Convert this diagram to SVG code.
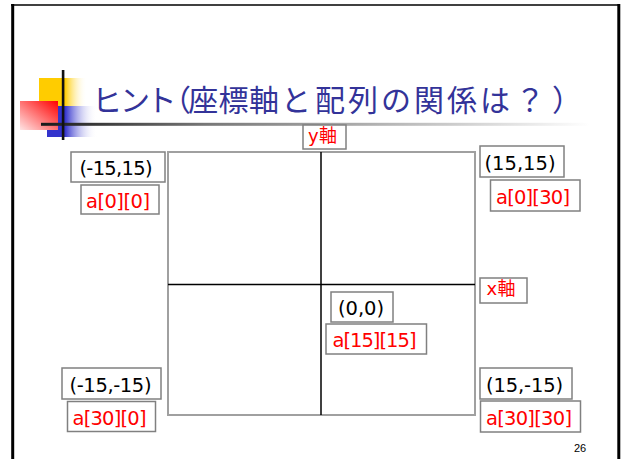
<svg xmlns="http://www.w3.org/2000/svg" width="622" height="459" viewBox="0 0 622 459">
<defs>
<linearGradient id="gY" x1="0" y1="0" x2="1" y2="0"><stop offset="0" stop-color="#FFCC00"/><stop offset="0.54" stop-color="#FFCC00"/><stop offset="1" stop-color="#FFFFFF" stop-opacity="0"/></linearGradient>
<linearGradient id="gB" x1="0" y1="0" x2="1" y2="0"><stop offset="0" stop-color="#3333CC"/><stop offset="0.36" stop-color="#3333CC"/><stop offset="1" stop-color="#FFFFFF" stop-opacity="0"/></linearGradient>
<linearGradient id="gR" x1="1" y1="0" x2="0" y2="1"><stop offset="0" stop-color="#FF0000"/><stop offset="1" stop-color="#FFE4E4"/></linearGradient>
<linearGradient id="gL" gradientUnits="userSpaceOnUse" x1="41" y1="0" x2="590" y2="0"><stop offset="0" stop-color="#1a1a1a"/><stop offset="0.3" stop-color="#777777"/><stop offset="0.75" stop-color="#cccccc"/><stop offset="1" stop-color="#ffffff"/></linearGradient>
</defs>
<style>
.box{fill:#ffffff;stroke:#808080;stroke-width:1.5}
.k{font-family:"DejaVu Sans","Noto Sans CJK JP",sans-serif;font-size:19.5px;fill:#000000}
.r{font-family:"DejaVu Sans","Noto Sans CJK JP",sans-serif;font-size:19.5px;fill:#FF0000}
.ax{font-family:"DejaVu Sans","Noto Sans CJK JP",sans-serif;font-size:18px;fill:#FF0000}
.axis{stroke:#000000;stroke-width:1.5;fill:none}
</style>
<rect width="622" height="459" fill="#ffffff"/>
<g id="frame">
<line x1="11" y1="5" x2="620" y2="5" stroke="#404040" stroke-width="2.2"/>
<line x1="12.7" y1="4" x2="12.7" y2="459" stroke="#000000" stroke-width="3"/>
<line x1="618.8" y1="4" x2="618.8" y2="459" stroke="#000000" stroke-width="3"/>
</g>
<g id="logo">
<rect x="39" y="78" width="48" height="28" fill="url(#gY)"/>
<rect x="47" y="106" width="50" height="31" fill="url(#gB)"/>
<rect x="20" y="101" width="38" height="29" fill="url(#gR)"/>
<rect x="41" y="122.8" width="550" height="3" fill="url(#gL)"/>
<rect x="61.8" y="70" width="2.6" height="70" fill="#111111"/>
</g>
<g id="title">
<text font-family="'Noto Sans CJK JP',sans-serif" font-size="30" fill="#333399" y="111" x="92 120 146.5 161 188.3 218.5 249 281 315 348 381 414 447 480 515 552">ヒント（座標軸と配列の関係は？）</text>
</g>
<g id="grid">
<rect x="168" y="152" width="307" height="263" fill="none" stroke="#A0A0A0" stroke-width="2"/>
</g>
<g id="connectors">
<line class="axis" x1="321" y1="152" x2="321" y2="415"/>
<line class="axis" x1="168" y1="284.5" x2="475" y2="284.5"/>
</g>
<g id="y-axis-label"><rect class="box" x="303" y="125" width="43" height="24"/><text class="ax" x="308" y="142" textLength="29">y軸</text></g>
<g id="x-axis-label"><rect class="box" x="480" y="278" width="47" height="25"/><text class="ax" x="486.5" y="295" textLength="29">x軸</text></g>
<g id="c-tl"><rect class="box" x="71" y="152" width="94" height="30"/><text class="k" x="79.5" y="175" textLength="73">(-15,15)</text></g>
<g id="a-tl"><rect class="box" x="81" y="185" width="78" height="29"/><text class="r" x="86" y="208" textLength="64">a[0][0]</text></g>
<g id="c-tr"><rect class="box" x="480" y="146" width="84" height="31"/><text class="k" x="484.5" y="169.5" textLength="71">(15,15)</text></g>
<g id="a-tr"><rect class="box" x="490.5" y="180" width="89.5" height="31"/><text class="r" x="496" y="203.5" textLength="74">a[0][30]</text></g>
<g id="c-center"><rect class="box" x="331" y="292" width="62" height="30"/><text class="k" x="338" y="315" textLength="46">(0,0)</text></g>
<g id="a-center"><rect class="box" x="326" y="324" width="100.5" height="30"/><text class="r" x="332.5" y="347" textLength="84">a[15][15]</text></g>
<g id="c-bl"><rect class="box" x="62" y="368" width="99" height="31"/><text class="k" x="69.5" y="391.5" textLength="82">(-15,-15)</text></g>
<g id="a-bl"><rect class="box" x="67.5" y="401.5" width="88" height="30"/><text class="r" x="72.5" y="425" textLength="74">a[30][0]</text></g>
<g id="c-br"><rect class="box" x="480" y="368" width="92" height="31"/><text class="k" x="486" y="391.5" textLength="77">(15,-15)</text></g>
<g id="a-br"><rect class="box" x="480.5" y="401" width="100" height="31"/><text class="r" x="486" y="425" textLength="86">a[30][30]</text></g>
<g id="page-number"><text font-family="'Liberation Sans',Arial,sans-serif" font-size="11" fill="#000000" x="580" y="452" text-anchor="middle">26</text></g>
</svg>
